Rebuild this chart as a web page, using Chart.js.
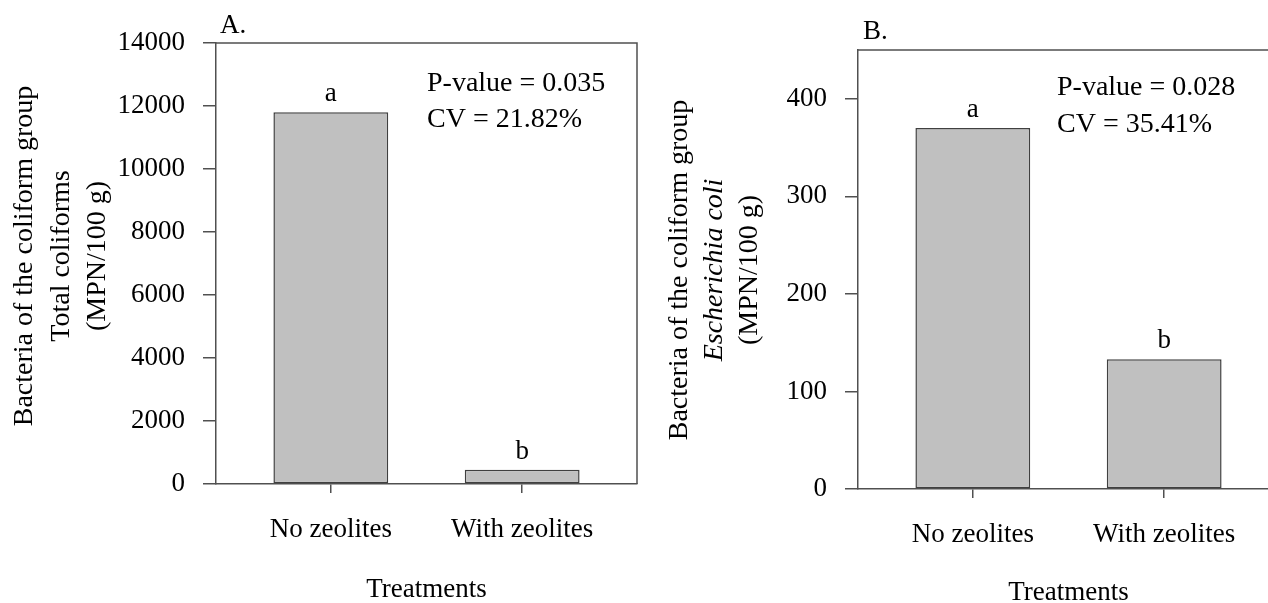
<!DOCTYPE html>
<html><head><meta charset="utf-8">
<script src="https://cdn.jsdelivr.net/npm/chart.js@4.4.1/dist/chart.umd.min.js"></script>
<style>
html,body{margin:0;padding:0;background:#fff;overflow:hidden;width:1268px;height:603px;}
#wrap{position:relative;width:1268px;height:603px;overflow:hidden;background:#fff;}
canvas{position:absolute;top:0;}
</style></head><body>
<div id="wrap">
<canvas id="cA" width="640" height="603" style="left:0"></canvas>
<canvas id="cB" width="640" height="603" style="left:640px"></canvas>
</div>
<script>
// ---- data ----
const categories = ['No zeolites', 'With zeolites'];
const totalColiforms = [11800, 450];
const eColi = [370, 133];
const lettersA = ['a', 'b'];
const lettersB = ['a', 'b'];
const yTicksA = [0, 2000, 4000, 6000, 8000, 10000, 12000, 14000];
const yTicksB = [0, 100, 200, 300, 400];
const yMaxA = 14000;
const yMaxB = 450;
const statsA = ['P-value = 0.035', 'CV = 21.82%'];
const statsB = ['P-value = 0.028', 'CV = 35.41%'];

const SERIF = "'Liberation Serif', 'Times New Roman', serif";
const AXIS = '#505050';
Chart.defaults.font.family = SERIF;
Chart.defaults.color = '#000';

function makeChart(id, values, letters, yTicks, yMax, cfg) {
  const textPlugin = {
    id: 'panelText',
    afterDraw(chart) {
      const ctx = chart.ctx;
      const ca = chart.chartArea;
      ctx.save();
      // frame top & right
      ctx.strokeStyle = AXIS;
      ctx.lineWidth = 1.5;
      ctx.beginPath();
      ctx.moveTo(ca.left, ca.top);
      ctx.lineTo(ca.right, ca.top);
      ctx.lineTo(ca.right, ca.bottom);
      ctx.stroke();
      ctx.fillStyle = '#000';
      // letters above bars
      ctx.font = "27px " + SERIF;
      ctx.textAlign = 'center';
      ctx.textBaseline = 'alphabetic';
      const meta = chart.getDatasetMeta(0);
      meta.data.forEach((bar, i) => {
        ctx.fillText(letters[i], bar.x, bar.y - 11);
      });
      // panel label
      ctx.textAlign = 'left';
      ctx.fillText(cfg.panel, cfg.panelX, cfg.panelY);
      // stats
      ctx.font = "28px " + SERIF;
      cfg.stats.forEach((s, i) => ctx.fillText(s, cfg.statX, cfg.statY[i]));
      // x title
      ctx.font = "27px " + SERIF;
      ctx.textAlign = 'center';
      ctx.fillText('Treatments', (ca.left + ca.right) / 2, cfg.xTitleY);
      // y titles (rotated)
      cfg.yTitles.forEach((t, i) => {
        ctx.save();
        ctx.translate(cfg.yTitleX[i], cfg.yTitleCY);
        ctx.rotate(-Math.PI / 2);
        ctx.font = (t.italic ? 'italic ' : '') + "28px " + SERIF;
        ctx.textAlign = 'center';
        ctx.fillText(t.text, 0, 0);
        ctx.restore();
      });
      ctx.restore();
    }
  };

  return new Chart(document.getElementById(id), {
    type: 'bar',
    data: {
      datasets: [{
        data: values.map((v, i) => ({ x: i, y: v })),
        backgroundColor: '#c0c0c0',
        borderColor: '#404040',
        borderWidth: 1.5,
        borderSkipped: false,
        barPercentage: 0.6,
        categoryPercentage: 1.0
      }]
    },
    options: {
      responsive: false,
      animation: false,
      layout: { padding: { left: 0, right: cfg.padRight, top: cfg.padTop, bottom: 0 } },
      plugins: { legend: { display: false }, tooltip: { enabled: false } },
      scales: {
        x: {
          type: 'linear',
          offset: false,
          min: -0.6, max: 1.6,
          afterBuildTicks: s => { s.ticks = categories.map((c, i) => ({ value: i })); },
          afterFit: s => { s.height = cfg.xAxisH; },
          ticks: {
            callback: v => categories[v],
            font: { size: 27 }, color: '#000', padding: 21, maxRotation: 0, autoSkip: false
          },
          grid: { offset: false, drawOnChartArea: false, drawTicks: true, tickLength: 9, color: AXIS, lineWidth: 1.5 },
          border: { display: true, color: AXIS, width: 1.5 }
        },
        y: {
          min: 0, max: yMax,
          afterBuildTicks: s => { s.ticks = yTicks.map(v => ({ value: v })); },
          afterFit: s => { s.width = cfg.yAxisW; },
          ticks: { font: { size: 27 }, color: '#000', padding: 18, callback: v => String(v) },
          grid: { drawOnChartArea: false, drawTicks: true, tickLength: 13, color: AXIS, lineWidth: 1.5 },
          border: { display: true, color: AXIS, width: 1.5 }
        }
      }
    },
    plugins: [textPlugin]
  });
}

makeChart('cA', totalColiforms, lettersA, yTicksA, yMaxA, {
  padTop: 43, padRight: 3, xAxisH: 119, yAxisW: 216,
  panel: 'A.', panelX: 220, panelY: 33,
  stats: statsA, statX: 427, statY: [91, 127],
  xTitleY: 597,
  yTitles: [{ text: 'Bacteria of the coliform group' }, { text: 'Total coliforms' }, { text: '(MPN/100 g)' }],
  yTitleX: [32, 69, 105], yTitleCY: 256
});

makeChart('cB', eColi, lettersB, yTicksB, yMaxB, {
  padTop: 50, padRight: 1, xAxisH: 114, yAxisW: 218,
  panel: 'B.', panelX: 223, panelY: 39,
  stats: statsB, statX: 417, statY: [95, 132],
  xTitleY: 600,
  yTitles: [{ text: 'Bacteria of the coliform group' }, { text: 'Escherichia coli', italic: true }, { text: '(MPN/100 g)' }],
  yTitleX: [47, 82, 117], yTitleCY: 270
});
</script>
</body></html>
